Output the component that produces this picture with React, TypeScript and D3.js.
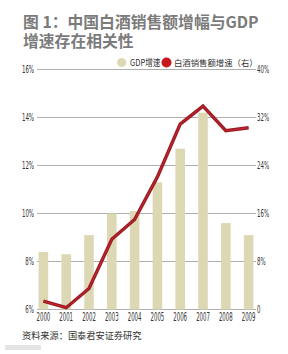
import React from 'react';
import { scaleBand, scaleLinear, line } from 'd3';

// years on the x axis
const years = ['2000', '2001', '2002', '2003', '2004', '2005', '2006', '2007', '2008', '2009'];
// GDP growth, %, left axis
const gdpGrowth = [8.4, 8.3, 9.1, 10.0, 10.1, 11.3, 12.7, 14.2, 9.6, 9.1];
// liquor sales growth, %, right axis
const liquorGrowth = [1.4, 0.3, 3.5, 11.7, 15.0, 22.1, 30.9, 33.9, 29.8, 30.3];

const leftTicks = [6, 8, 10, 12, 14, 16];
const rightTicks = [0, 8, 16, 24, 32, 40];

const titleLines = ['图 1：中国白酒销售额增幅与GDP', '增速存在相关性'];
const legendLabels = ['GDP增速', '白酒销售额增速（右）'];
const sourceText = '资料来源：国泰君安证券研究';

const cjk = '"Noto Sans CJK SC", "Noto Sans", sans-serif';
const narrow = '"DejaVu Sans Condensed", "DejaVu Sans", sans-serif';

const App = () => {
  const width = 288;
  const height = 354;
  const plotLeft = 37;
  const plotRight = 256;
  const plotTop = 69.5;
  const plotBottom = 309.5;

  const xScale = scaleBand<string>()
    .domain(years)
    .range([32, 260])
    .paddingInner(0.58)
    .paddingOuter(0.29);

  const yLeft = scaleLinear().domain([6, 16]).range([plotBottom, plotTop]);
  const yRight = scaleLinear().domain([0, 40]).range([plotBottom, plotTop]);

  const cx = (y: string) => (xScale(y) as number) + xScale.bandwidth() / 2;

  const liquorLine = line<number>()
    .x((_, i) => cx(years[i]))
    .y(d => yRight(d));

  return (
    <svg width={width} height={height} style={{ position: 'absolute', left: 0, top: 0, background: '#fff' }}>
      <text fill="#7b7b7b" fontFamily={cjk} fontWeight="bold" fontSize={15.8}>
        {titleLines.map((t, i) => (
          <tspan key={t} x={23} y={28 + i * 19}>
            {t}
          </tspan>
        ))}
      </text>

      {leftTicks.map(t => (
        <g key={`grid-${t}`}>
          <line x1={plotLeft} x2={plotRight} y1={yLeft(t)} y2={yLeft(t)} stroke="#9a9a9a" strokeWidth={0.8} />
          <text
            transform={`translate(34, ${yLeft(t) + 3.8}) scale(0.55, 1)`}
            textAnchor="end"
            fontFamily={narrow}
            fontSize={11}
            fill="#333"
          >
            {t}%
          </text>
        </g>
      ))}

      {rightTicks.map(t => (
        <text
          key={`r-${t}`}
          transform={`translate(257, ${yRight(t) + 3.8}) scale(0.55, 1)`}
          fontFamily={narrow}
          fontSize={11}
          fill="#333"
        >
          {t === 0 ? '0' : `${t}%`}
        </text>
      ))}

      {years.map((y, i) => (
        <rect
          key={`bar-${y}`}
          x={xScale(y)}
          y={yLeft(gdpGrowth[i])}
          width={xScale.bandwidth()}
          height={plotBottom - yLeft(gdpGrowth[i])}
          fill="#dcd8b4"
        />
      ))}

      <path d={liquorLine(liquorGrowth) || ''} fill="none" stroke="#9c1a22" strokeWidth={3.4} strokeLinejoin="miter" />
      <path d={liquorLine(liquorGrowth) || ''} fill="none" stroke="#c42830" strokeWidth={1} strokeLinejoin="miter" />

      {years.map(y => (
        <text
          key={`yr-${y}`}
          transform={`translate(${cx(y)}, 321) scale(0.5, 1)`}
          textAnchor="middle"
          fontFamily={narrow}
          fontSize={12}
          fill="#333"
        >
          {y}
        </text>
      ))}

      <circle cx={121.7} cy={62.5} r={4.6} fill="#dcd8b4" />
      <text transform="translate(130, 66) scale(0.8, 1)" fontFamily={cjk} fontSize={9.5} fill="#333">
        {legendLabels[0]}
      </text>
      <circle cx={166.5} cy={62.5} r={5} fill="#c8181e" />
      <text x={174} y={66} fontFamily={cjk} fontSize={8.4} fill="#333">
        {legendLabels[1]}
      </text>

      <text x={22} y={339} fontFamily={cjk} fontSize={9.2} fill="#333">
        {sourceText}
      </text>
      <rect x={5} y={345} width={36} height={5} fill="#e4e4e4" />
    </svg>
  );
};

export default App;
